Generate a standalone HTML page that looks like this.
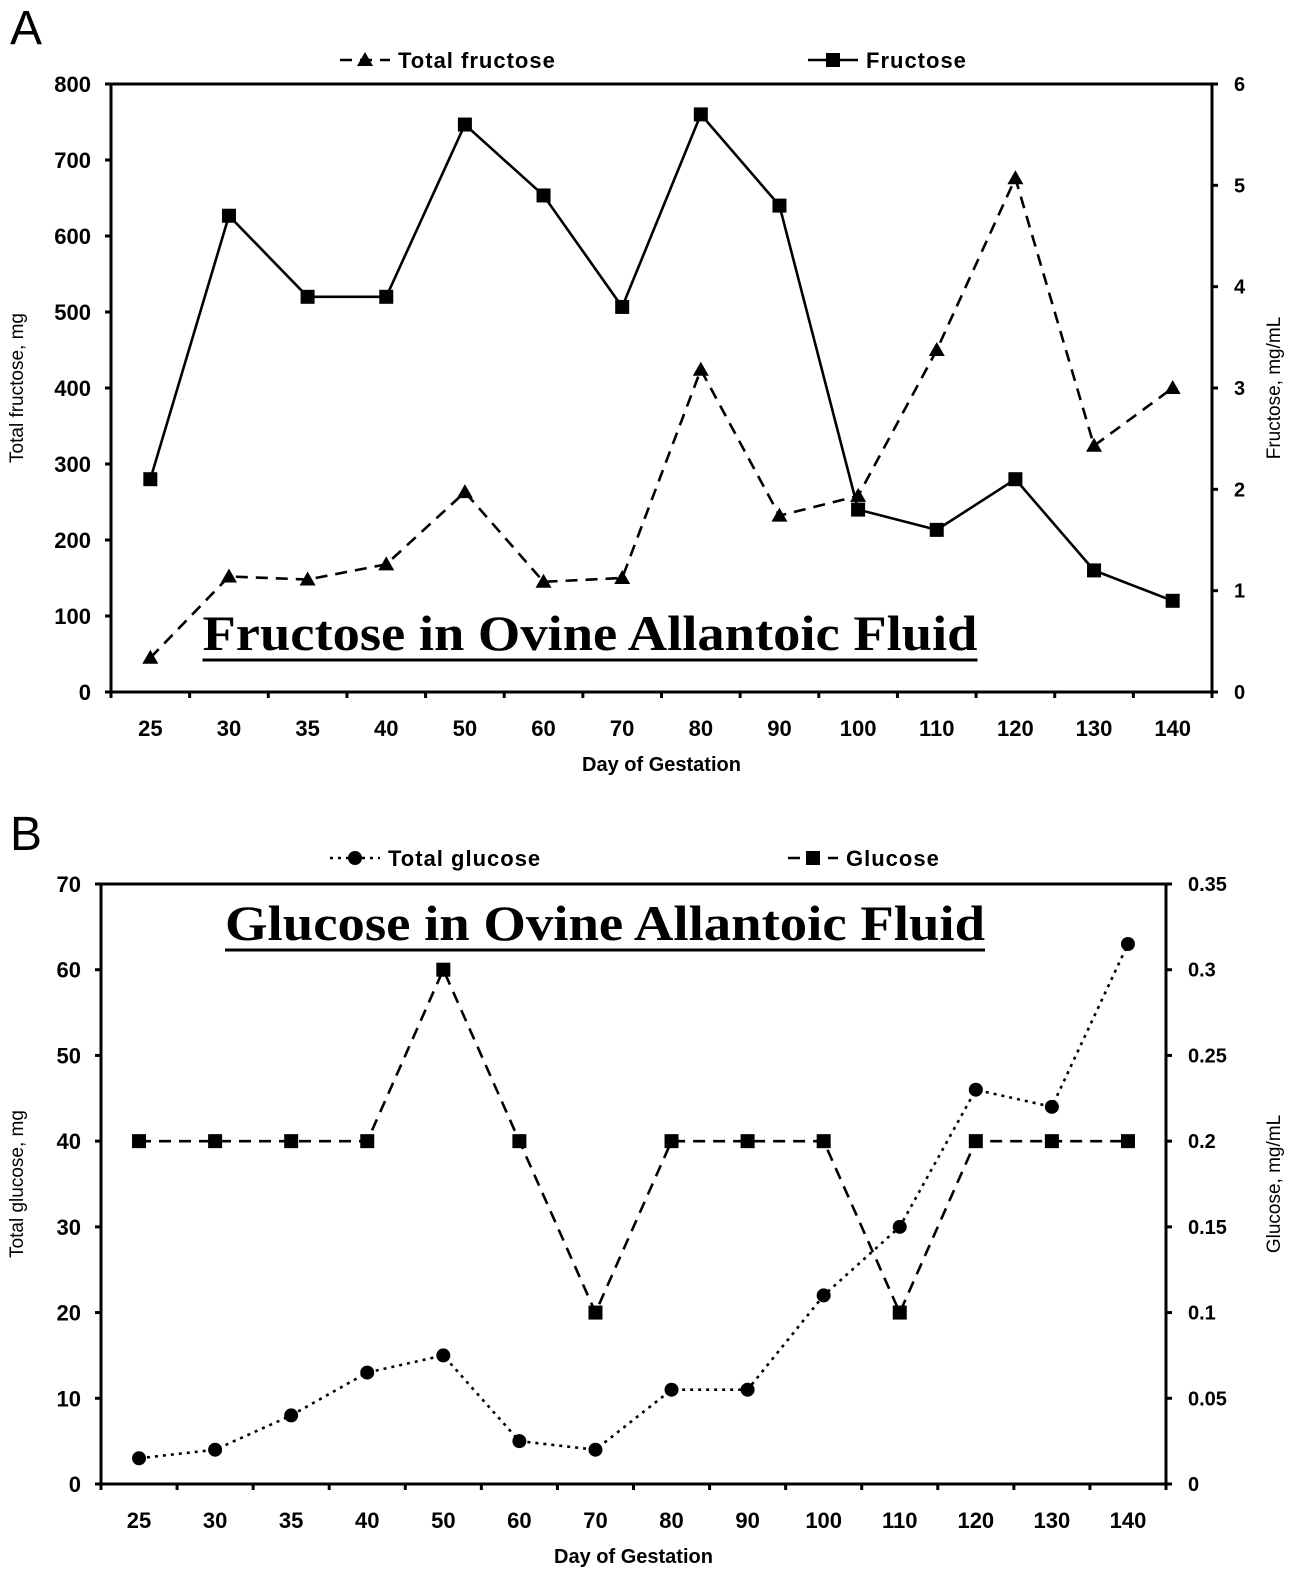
<!DOCTYPE html>
<html><head><meta charset="utf-8"><style>
body{margin:0;background:#fff}
svg{display:block;font-family:"Liberation Sans",Arial,sans-serif}
</style></head><body>
<svg id="s" width="1297" height="1573" viewBox="0 0 1297 1573"></svg>
<script>
const categories=["25","30","35","40","50","60","70","80","90","100","110","120","130","140"];
const totalFructose=[45,152,148,168,263,145,150,424,232,258,450,676,324,400];
const fructose=[2.1,4.7,3.9,3.9,5.6,4.9,3.8,5.7,4.8,1.8,1.6,2.1,1.2,0.9];
const fLeftTicks=[0,100,200,300,400,500,600,700,800];
const fRightTicks=[0,1,2,3,4,5,6];
const totalGlucose=[3,4,8,13,15,5,4,11,11,22,30,46,44,63];
const glucose=[0.2,0.2,0.2,0.2,0.3,0.2,0.1,0.2,0.2,0.2,0.1,0.2,0.2,0.2];
const gLeftTicks=[0,10,20,30,40,50,60,70];
const gRightTicks=["0","0.05","0.1","0.15","0.2","0.25","0.3","0.35"];

const NS="http://www.w3.org/2000/svg";
const svg=document.getElementById('s');
function el(tag,attrs,parent,text){const e=document.createElementNS(NS,tag);for(const k in attrs)e.setAttribute(k,attrs[k]);if(text!==undefined)e.textContent=text;(parent||svg).appendChild(e);return e;}

function chart(o){
  const g=el('g',{});
  
  
  const L=o.x0,R=o.x1,T=o.y0,B=o.y1;
  const bw=(R-L)/categories.length;
  const xs=i=>L+bw*(i+0.5);
  const yl=v=>B-(v-o.lmin)/(o.lmax-o.lmin)*(B-T);
  const yr=v=>B-(v-o.rmin)/(o.rmax-o.rmin)*(B-T);
  const ax=el('path',{d:`M${L},${T}H${R}V${B}H${L}Z`,fill:'none',stroke:'#000','stroke-width':3},g);
  
  
  o.lt.forEach(v=>{const y=yl(+v);el('line',{x1:L-6,x2:L,y1:y,y2:y,stroke:'#000','stroke-width':3},g);
    const t=el('text',{x:L-20,y:y+8,'text-anchor':'end','font-size':22,'font-weight':'bold'},g,v);
    
    });
  o.rt.forEach(v=>{const y=yr(+v);el('line',{x1:R,x2:R+6,y1:y,y2:y,stroke:'#000','stroke-width':3},g);
    const t=el('text',{x:R+22,y:y+7,'font-size':20,'font-weight':'bold'},g,v);
    
    });
  for(let i=0;i<=categories.length;i++){const x=L+bw*i;el('line',{x1:x,x2:x,y1:B,y2:B+6,stroke:'#000','stroke-width':3},g);}
  categories.forEach((c,i)=>{const t=el('text',{x:xs(i),y:B+44,'text-anchor':'middle','font-size':22,'font-weight':'bold'},g,c);
    
    });
  let t=el('text',{x:(L+R)/2,y:B+79,'text-anchor':'middle','font-size':20,'font-weight':'bold'},g,'Day of Gestation');
  
  t=el('text',{x:0,y:0,transform:`translate(23,${(T+B)/2}) rotate(-90)`,'text-anchor':'middle','font-size':19},g,o.ltitle);
  
  t=el('text',{x:0,y:0,transform:`translate(1280,${(T+B)/2}) rotate(-90)`,'text-anchor':'middle','font-size':19},g,o.rtitle);
  
  const s1=el('polyline',{points:o.l.map((v,i)=>xs(i)+','+yl(v)).join(' '),fill:'none',stroke:'#000','stroke-width':2.6,'stroke-dasharray':o.ldash},g);
  
  o.l.forEach((v,i)=>marker(g,o.lmark,xs(i),yl(v),o.lname+'-point'));
  const s2=el('polyline',{points:o.r.map((v,i)=>xs(i)+','+yr(v)).join(' '),fill:'none',stroke:'#000','stroke-width':2.6,'stroke-dasharray':o.rdash},g);
  
  o.r.forEach((v,i)=>marker(g,'square',xs(i),yr(v),o.rname+'-point'));
  legend(g,o.leg1x,o.legy,o.ldash,o.lmark,o.lab1);
  legend(g,o.leg2x,o.legy,o.rdash,'square',o.lab2);
  t=el('text',{x:o.tx-o.tw/2,y:o.ty,'font-size':50,'font-weight':'bold','font-family':'Liberation Serif,serif',textLength:o.tw,lengthAdjust:'spacingAndGlyphs'},g,o.title);
  
  el('line',{x1:o.tx-o.tw/2,x2:o.tx+o.tw/2,y1:o.ty+10,y2:o.ty+10,stroke:'#000','stroke-width':3},g);
  t=el('text',{x:10,y:o.py,'font-size':48},g,o.panel);
  
}
function marker(g,type,x,y,name){
  let m;
  if(type==='square')m=el('rect',{x:x-7,y:y-7,width:14,height:14,fill:'#000'},g);
  else if(type==='tri')m=el('path',{d:`M${x},${y-8}L${x+8},${y+6}L${x-8},${y+6}Z`,fill:'#000'},g);
  else m=el('circle',{cx:x,cy:y,r:7,fill:'#000'},g);
  
  
}
function legend(g,x,y,dash,mk,lab){
  const lg=el('g',{},g);
  
  
  el('line',{x1:x,x2:x+50,y1:y,y2:y,stroke:'#000','stroke-width':2.6,'stroke-dasharray':dash},lg);
  marker(lg,mk,x+25,y,'legend-marker');
  el('text',{x:x+58,y:y+8,'font-size':22,'font-weight':'bold','letter-spacing':1},lg,lab);
}
chart({name:'fructose-chart',x0:111,x1:1212,y0:84,y1:692,lmin:0,lmax:800,rmin:0,rmax:6,lt:fLeftTicks.map(String),rt:fRightTicks.map(String),
  l:totalFructose,r:fructose,ldash:'12,8',rdash:'',lmark:'tri',lname:'total-fructose',rname:'fructose',
  ltitle:'Total fructose, mg',rtitle:'Fructose, mg/mL',leg1x:340,leg2x:808,legy:60,lab1:'Total fructose',lab2:'Fructose',
  title:'Fructose in Ovine Allantoic Fluid',tx:590,ty:650,tw:775,panel:'A',py:44});
chart({name:'glucose-chart',x0:101,x1:1166,y0:884,y1:1484,lmin:0,lmax:70,rmin:0,rmax:0.35,lt:gLeftTicks.map(String),rt:gRightTicks,
  l:totalGlucose,r:glucose,ldash:'3,5',rdash:'12,8',lmark:'circle',lname:'total-glucose',rname:'glucose',
  ltitle:'Total glucose, mg',rtitle:'Glucose, mg/mL',leg1x:330,leg2x:788,legy:858,lab1:'Total glucose',lab2:'Glucose',
  title:'Glucose in Ovine Allantoic Fluid',tx:605,ty:940,tw:760,panel:'B',py:850});
</script>
</body></html>
